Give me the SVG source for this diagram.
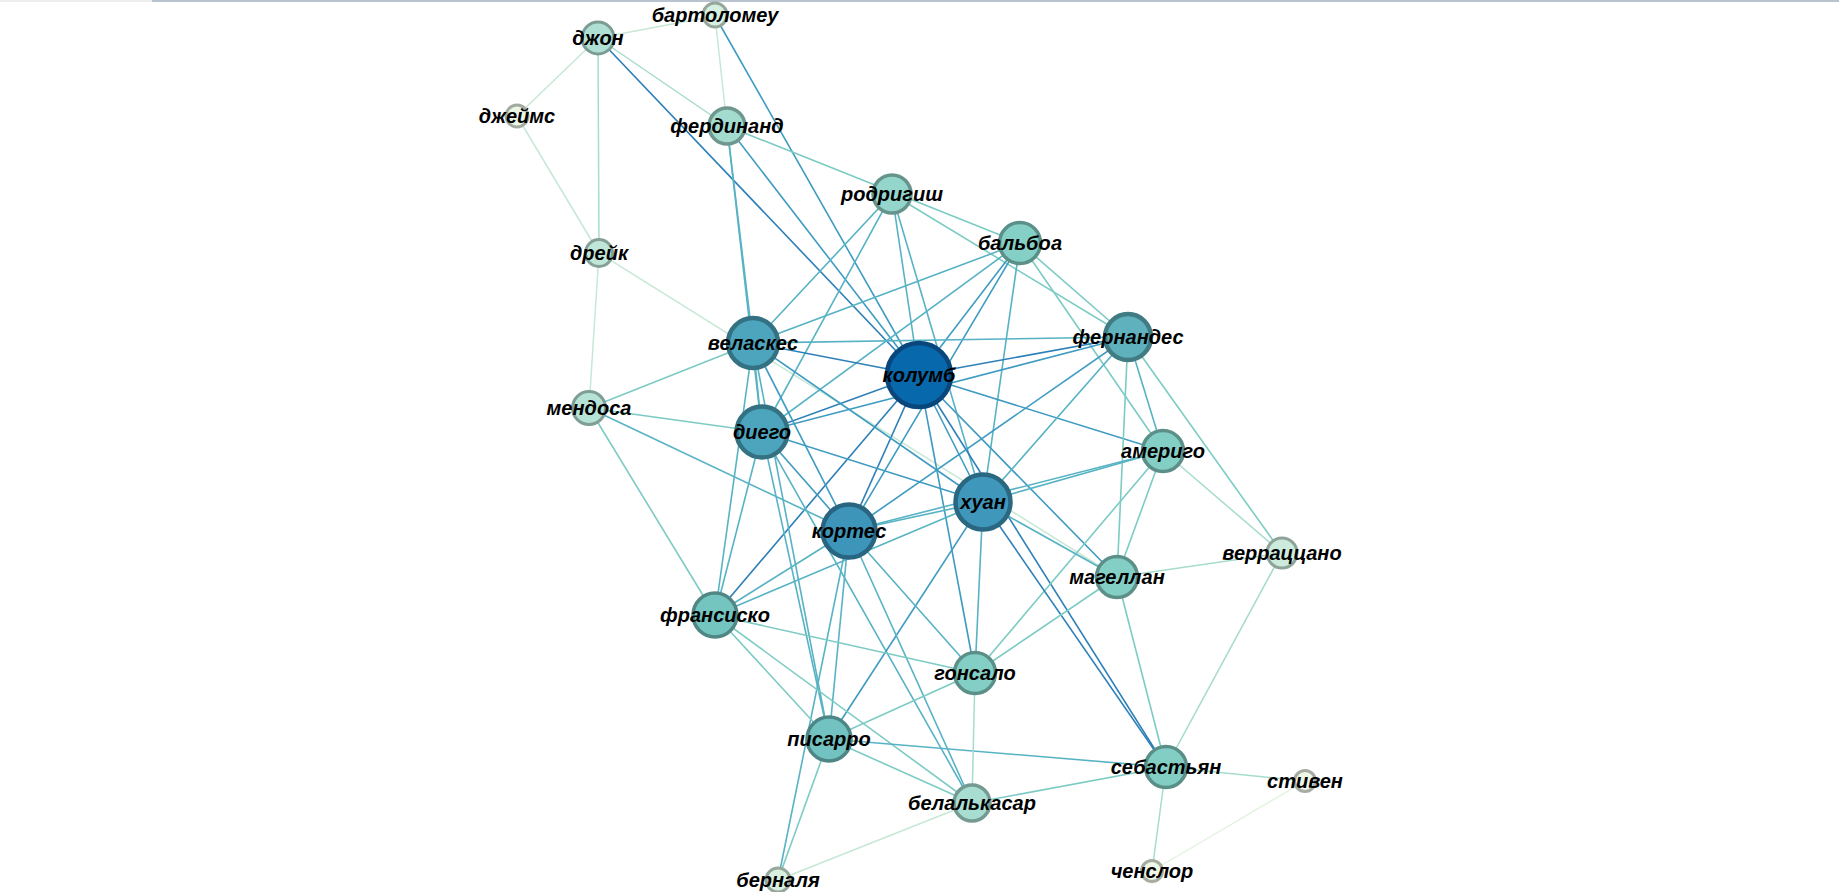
<svg xmlns="http://www.w3.org/2000/svg" width="1839" height="892" viewBox="0 0 1839 892">
<style>
.e1{stroke:#2c7fb8;stroke-width:1.6;fill:none}
.e2{stroke:#3f9bc2;stroke-width:1.6;fill:none}
.e3{stroke:#57b3c4;stroke-width:1.6;fill:none}
.e4{stroke:#7ccbc4;stroke-width:1.6;fill:none}
.e5{stroke:#a6dccd;stroke-width:1.5;fill:none}
.e6{stroke:#c6e8d5;stroke-width:1.5;fill:none}
.e7{stroke:#e2f3df;stroke-width:1.4;fill:none}
text{font-family:"Liberation Sans",Arial,sans-serif;font-weight:bold;font-style:italic;font-size:20px;fill:#000;text-anchor:middle}
circle{stroke-width:3.5}
.big{stroke-width:4.5}
.sm{stroke-width:3}
</style>
<rect x="0" y="0" width="1839" height="892" fill="#ffffff"/>
<rect x="0" y="0" width="152" height="2" fill="#eeeeee"/>
<rect x="152" y="0" width="1687" height="2" fill="#b9c3cf"/>
<g id="connectors">
<line class="e6" x1="598" y1="38" x2="715" y2="16"/>
<line class="e6" x1="598" y1="38" x2="517" y2="116"/>
<line class="e5" x1="598" y1="38" x2="599" y2="253"/>
<line class="e5" x1="598" y1="38" x2="727" y2="126"/>
<line class="e1" x1="598" y1="38" x2="919" y2="375"/>
<line class="e6" x1="715" y1="16" x2="727" y2="126"/>
<line class="e2" x1="715" y1="16" x2="919" y2="375"/>
<line class="e6" x1="517" y1="116" x2="599" y2="253"/>
<line class="e6" x1="599" y1="253" x2="1117" y2="577"/>
<line class="e6" x1="599" y1="253" x2="589" y2="408"/>
<line class="e4" x1="727" y1="126" x2="1020" y2="243"/>
<line class="e2" x1="727" y1="126" x2="919" y2="375"/>
<line class="e3" x1="727" y1="126" x2="753" y2="343"/>
<line class="e3" x1="727" y1="126" x2="762" y2="432"/>
<line class="e4" x1="892" y1="194" x2="1128" y2="337"/>
<line class="e3" x1="892" y1="194" x2="919" y2="375"/>
<line class="e3" x1="892" y1="194" x2="983" y2="502"/>
<line class="e3" x1="892" y1="194" x2="753" y2="343"/>
<line class="e3" x1="892" y1="194" x2="762" y2="432"/>
<line class="e3" x1="1020" y1="243" x2="753" y2="343"/>
<line class="e3" x1="1020" y1="243" x2="762" y2="432"/>
<line class="e2" x1="1020" y1="243" x2="919" y2="375"/>
<line class="e2" x1="1020" y1="243" x2="849" y2="531"/>
<line class="e3" x1="1020" y1="243" x2="983" y2="502"/>
<line class="e4" x1="1020" y1="243" x2="1128" y2="337"/>
<line class="e4" x1="1020" y1="243" x2="1163" y2="451"/>
<line class="e1" x1="919" y1="375" x2="753" y2="343"/>
<line class="e1" x1="919" y1="375" x2="1128" y2="337"/>
<line class="e1" x1="919" y1="375" x2="762" y2="432"/>
<line class="e2" x1="919" y1="375" x2="1163" y2="451"/>
<line class="e2" x1="919" y1="375" x2="983" y2="502"/>
<line class="e1" x1="919" y1="375" x2="849" y2="531"/>
<line class="e2" x1="919" y1="375" x2="1117" y2="577"/>
<line class="e1" x1="919" y1="375" x2="715" y2="615"/>
<line class="e2" x1="919" y1="375" x2="975" y2="673"/>
<line class="e1" x1="919" y1="375" x2="1166" y2="767"/>
<line class="e3" x1="1128" y1="337" x2="753" y2="343"/>
<line class="e2" x1="1128" y1="337" x2="762" y2="432"/>
<line class="e2" x1="1128" y1="337" x2="849" y2="531"/>
<line class="e3" x1="1128" y1="337" x2="983" y2="502"/>
<line class="e3" x1="1128" y1="337" x2="1163" y2="451"/>
<line class="e4" x1="1128" y1="337" x2="1117" y2="577"/>
<line class="e4" x1="1128" y1="337" x2="1282" y2="553"/>
<line class="e4" x1="753" y1="343" x2="589" y2="408"/>
<line class="e3" x1="753" y1="343" x2="762" y2="432"/>
<line class="e2" x1="753" y1="343" x2="849" y2="531"/>
<line class="e2" x1="753" y1="343" x2="983" y2="502"/>
<line class="e3" x1="753" y1="343" x2="715" y2="615"/>
<line class="e3" x1="753" y1="343" x2="829" y2="739"/>
<line class="e4" x1="589" y1="408" x2="762" y2="432"/>
<line class="e3" x1="589" y1="408" x2="849" y2="531"/>
<line class="e4" x1="589" y1="408" x2="715" y2="615"/>
<line class="e2" x1="762" y1="432" x2="983" y2="502"/>
<line class="e2" x1="762" y1="432" x2="849" y2="531"/>
<line class="e3" x1="762" y1="432" x2="715" y2="615"/>
<line class="e3" x1="762" y1="432" x2="829" y2="739"/>
<line class="e3" x1="762" y1="432" x2="972" y2="803"/>
<line class="e3" x1="1163" y1="451" x2="983" y2="502"/>
<line class="e3" x1="1163" y1="451" x2="849" y2="531"/>
<line class="e4" x1="1163" y1="451" x2="1117" y2="577"/>
<line class="e5" x1="1163" y1="451" x2="1282" y2="553"/>
<line class="e4" x1="1163" y1="451" x2="975" y2="673"/>
<line class="e3" x1="983" y1="502" x2="849" y2="531"/>
<line class="e3" x1="983" y1="502" x2="1117" y2="577"/>
<line class="e3" x1="983" y1="502" x2="975" y2="673"/>
<line class="e1" x1="983" y1="502" x2="1166" y2="767"/>
<line class="e2" x1="983" y1="502" x2="829" y2="739"/>
<line class="e3" x1="983" y1="502" x2="715" y2="615"/>
<line class="e3" x1="849" y1="531" x2="715" y2="615"/>
<line class="e3" x1="849" y1="531" x2="829" y2="739"/>
<line class="e3" x1="849" y1="531" x2="975" y2="673"/>
<line class="e3" x1="849" y1="531" x2="972" y2="803"/>
<line class="e3" x1="849" y1="531" x2="778" y2="880"/>
<line class="e5" x1="1117" y1="577" x2="1282" y2="553"/>
<line class="e4" x1="1117" y1="577" x2="1166" y2="767"/>
<line class="e4" x1="1117" y1="577" x2="975" y2="673"/>
<line class="e5" x1="1282" y1="553" x2="1166" y2="767"/>
<line class="e4" x1="715" y1="615" x2="829" y2="739"/>
<line class="e4" x1="715" y1="615" x2="975" y2="673"/>
<line class="e4" x1="715" y1="615" x2="972" y2="803"/>
<line class="e4" x1="829" y1="739" x2="975" y2="673"/>
<line class="e3" x1="829" y1="739" x2="1166" y2="767"/>
<line class="e4" x1="829" y1="739" x2="972" y2="803"/>
<line class="e4" x1="829" y1="739" x2="778" y2="880"/>
<line class="e6" x1="972" y1="803" x2="778" y2="880"/>
<line class="e4" x1="972" y1="803" x2="1166" y2="767"/>
<line class="e5" x1="975" y1="673" x2="972" y2="803"/>
<line class="e5" x1="1166" y1="767" x2="1305" y2="781"/>
<line class="e5" x1="1166" y1="767" x2="1152" y2="871"/>
<line class="e7" x1="1305" y1="781" x2="1152" y2="871"/>
</g>
<g id="n-kolumb"><circle class="big" cx="919" cy="375" r="32" fill="#0868ac" stroke="#08467c"/><text x="919" y="382">колумб</text></g>
<g id="n-huan"><circle class="big" cx="983" cy="502" r="27.5" fill="#3f97bb" stroke="#2a6781"/><text x="983" y="509">хуан</text></g>
<g id="n-kortes"><circle class="big" cx="849" cy="531" r="26.5" fill="#3e95ba" stroke="#296580"/><text x="849" y="538">кортес</text></g>
<g id="n-diego"><circle class="big" cx="762" cy="432" r="25.5" fill="#4da5bd" stroke="#347183"/><text x="762" y="439">диего</text></g>
<g id="n-velaskes"><circle class="big" cx="753" cy="343" r="25" fill="#4da5bd" stroke="#347183"/><text x="753" y="350">веласкес</text></g>
<g id="n-fernandes"><circle class="big" cx="1128" cy="337" r="23" fill="#5fb2bd" stroke="#417b84"/><text x="1128" y="344">фернандес</text></g>
<g id="n-fransisko"><circle cx="715" cy="615" r="22" fill="#74c4c0" stroke="#508785"/><text x="715" y="622">франсиско</text></g>
<g id="n-pisarro"><circle cx="829" cy="739" r="22" fill="#71c2c0" stroke="#4e8685"/><text x="829" y="746">писарро</text></g>
<g id="n-balboa"><circle cx="1020" cy="243" r="20.5" fill="#85d0c6" stroke="#5b9089"/><text x="1020" y="250">бальбоа</text></g>
<g id="n-amerigo"><circle cx="1163" cy="451" r="20.5" fill="#84cfc5" stroke="#5b8f88"/><text x="1163" y="458">америго</text></g>
<g id="n-magellan"><circle cx="1117" cy="577" r="20.5" fill="#84cfc5" stroke="#5b8f88"/><text x="1117" y="584">магеллан</text></g>
<g id="n-sebastyan"><circle cx="1166" cy="767" r="20.5" fill="#82cec5" stroke="#5a8f88"/><text x="1166" y="774">себастьян</text></g>
<g id="n-gonsalo"><circle cx="975" cy="673" r="20.5" fill="#84cfc5" stroke="#5b8f88"/><text x="975" y="680">гонсало</text></g>
<g id="n-rodrigish"><circle cx="892" cy="194" r="19" fill="#94d6cb" stroke="#66948c"/><text x="892" y="201">родригиш</text></g>
<g id="n-ferdinand"><circle cx="727" cy="126" r="18" fill="#a3dbcf" stroke="#70978f"/><text x="727" y="133">фердинанд</text></g>
<g id="n-belalkasar"><circle cx="972" cy="803" r="18" fill="#a8ddd2" stroke="#749a92"/><text x="972" y="810">белалькасар</text></g>
<g id="n-dzhon"><circle class="sm" cx="598" cy="38" r="16" fill="#b0e0d4" stroke="#7a9c93"/><text x="598" y="45">джон</text></g>
<g id="n-mendosa"><circle class="sm" cx="589" cy="408" r="16.5" fill="#b7e3d7" stroke="#7f9e96"/><text x="589" y="415">мендоса</text></g>
<g id="n-dreyk"><circle class="sm" cx="599" cy="253" r="13.5" fill="#bfe6d8" stroke="#85a096"/><text x="599" y="260">дрейк</text></g>
<g id="n-verratsano"><circle class="sm" cx="1282" cy="553" r="15" fill="#cdebdd" stroke="#8ea49a"/><text x="1282" y="560">верраццано</text></g>
<g id="n-bartolomeu"><circle class="sm" cx="715" cy="15" r="12" fill="#d6efe0" stroke="#95a69b"/><text x="715" y="22">бартоломеу</text></g>
<g id="n-bernalya"><circle class="sm" cx="778" cy="880" r="12" fill="#d9f0e1" stroke="#97a79c"/><text x="778" y="887">берналя</text></g>
<g id="n-dzheyms"><circle class="sm" cx="517" cy="116" r="11" fill="#eaf6e6" stroke="#a3aba0"/><text x="517" y="123">джеймс</text></g>
<g id="n-stiven"><circle class="sm" cx="1305" cy="781" r="10.5" fill="#eef8e8" stroke="#a6aca2"/><text x="1305" y="788">стивен</text></g>
<g id="n-chenslor"><circle class="sm" cx="1152" cy="871" r="10.5" fill="#eef8e8" stroke="#a6aca2"/><text x="1152" y="878">ченслор</text></g>
</svg>
